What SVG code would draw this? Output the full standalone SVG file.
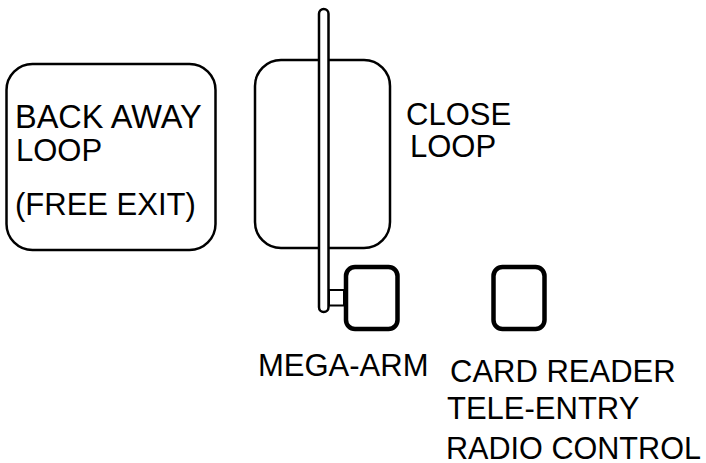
<svg xmlns="http://www.w3.org/2000/svg" width="706" height="463" viewBox="0 0 706 463">
<style>
.s{fill:none;stroke:#000}
.t{font-family:"Liberation Sans",Arial,sans-serif;font-size:31px;fill:#000}
</style>
<rect width="706" height="463" fill="#fff"/>
<g id="back-away-loop"><rect class="s" stroke-width="2.5" x="6.5" y="64" width="209" height="186" rx="26"/>
<text class="t" x="15" y="128" style="font-size:32.5px">BACK AWAY</text><text class="t" x="16" y="161">LOOP</text><text class="t" x="15" y="215">(FREE EXIT)</text></g>
<g id="close-loop"><rect class="s" stroke-width="2.5" x="255" y="60" width="135" height="188" rx="26"/>
<text class="t" x="406" y="125">CLOSE</text><text class="t" x="410" y="156.500">LOOP</text></g>
<g id="mega-arm"><rect x="319" y="9" width="9.500" height="303" rx="4.750" fill="#fff" stroke="#000" stroke-width="2.500"/>
<rect class="s" stroke-width="2" x="329" y="290" width="15" height="15.500"/>
<rect x="346" y="267" width="51.500" height="62" rx="9" fill="#fff" stroke="#000" stroke-width="4.500"/>
<text class="t" x="258" y="376">MEGA-ARM</text></g>
<g id="card-reader"><rect class="s" stroke-width="4.500" x="493.500" y="267" width="51" height="62" rx="9"/>
<text class="t" x="450" y="382">CARD READER</text><text class="t" x="447" y="419">TELE-ENTRY</text><text class="t" x="446" y="459" style="font-size:30.6px">RADIO CONTROL</text></g>
<g id="connectors"></g>
</svg>
